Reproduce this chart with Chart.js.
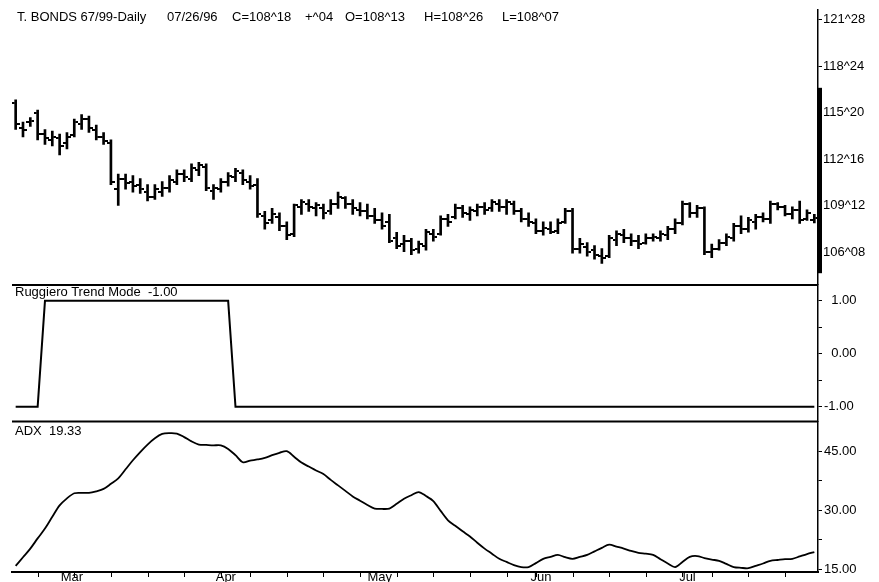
<!DOCTYPE html>
<html>
<head>
<meta charset="utf-8">
<script src="https://cdn.jsdelivr.net/npm/chart.js@4.4.1/dist/chart.umd.min.js"></script>
<style>
  html, body { margin: 0; padding: 0; background: #fff; overflow: hidden; }
  #wrap { position: relative; width: 879px; height: 582px; }
  .lbl { position: absolute; font: 13px "Liberation Sans", Arial, sans-serif; color: #000; white-space: pre; line-height: 15px; }
</style>
</head>
<body>
<div id="wrap">
  <canvas id="chart" width="879" height="582"></canvas>
  <div class="lbl" style="left:17px;top:9px">T. BONDS 67/99-Daily</div>
  <div class="lbl" style="left:167px;top:9px">07/26/96</div>
  <div class="lbl" style="left:232px;top:9px">C=108^18</div>
  <div class="lbl" style="left:305px;top:9px">+^04</div>
  <div class="lbl" style="left:345px;top:9px">O=108^13</div>
  <div class="lbl" style="left:424px;top:9px">H=108^26</div>
  <div class="lbl" style="left:502px;top:9px">L=108^07</div>
  <div class="lbl" style="left:15px;top:284px">Ruggiero Trend Mode  -1.00</div>
  <div class="lbl" style="left:15px;top:423px">ADX  19.33</div>
</div>
<script>
// ---- trading days, 21 Feb - 26 Jul 1996 ----
const days = [
  'Feb 21','Feb 22','Feb 23','Feb 26','Feb 27','Feb 28','Feb 29',
  'Mar 1','Mar 4','Mar 5','Mar 6','Mar 7','Mar 8','Mar 11','Mar 12','Mar 13','Mar 14','Mar 15',
  'Mar 18','Mar 19','Mar 20','Mar 21','Mar 22','Mar 25','Mar 26','Mar 27','Mar 28','Mar 29',
  'Apr 1','Apr 2','Apr 3','Apr 4','Apr 8','Apr 9','Apr 10','Apr 11','Apr 12','Apr 15','Apr 16',
  'Apr 17','Apr 18','Apr 19','Apr 22','Apr 23','Apr 24','Apr 25','Apr 26','Apr 29','Apr 30',
  'May 1','May 2','May 3','May 6','May 7','May 8','May 9','May 10','May 13','May 14','May 15',
  'May 16','May 17','May 20','May 21','May 22','May 23','May 24','May 28','May 29','May 30','May 31',
  'Jun 3','Jun 4','Jun 5','Jun 6','Jun 7','Jun 10','Jun 11','Jun 12','Jun 13','Jun 14',
  'Jun 17','Jun 18','Jun 19','Jun 20','Jun 21','Jun 24','Jun 25','Jun 26','Jun 27','Jun 28',
  'Jul 1','Jul 2','Jul 3','Jul 5','Jul 8','Jul 9','Jul 10','Jul 11','Jul 12',
  'Jul 15','Jul 16','Jul 17','Jul 18','Jul 19','Jul 22','Jul 23','Jul 24','Jul 25','Jul 26'
];
const monthIdx = [7, 28, 49, 71, 91];
const monthNames = ['Mar', 'Apr', 'May', 'Jun', 'Jul'];
const weekIdx = [3, 8, 13, 18, 23, 28, 32, 37, 42, 47, 52, 57, 62, 67, 71, 76, 81, 86, 91, 95, 100, 105];

// ---- T-Bond OHLC (points, decimal) ----
const opens = [
  116.3, 114.6, 115.0, 115.6, 114.2, 113.8, 113.9, 113.6, 114.1, 114.9,
  115.2, 114.5, 114.0, 113.6, 110.5, 111.2, 111.0, 110.8, 110.3, 110.0,
  110.3, 110.6, 111.0, 111.5, 111.2, 111.8, 112.0, 110.4, 110.5, 111.0,
  111.3, 111.6, 111.0, 110.8, 108.7, 108.4, 108.6, 108.0, 107.5, 109.3,
  109.5, 109.2, 109.2, 109.0, 109.5, 109.9, 109.5, 109.1, 109.0, 108.7,
  108.4, 108.3, 107.2, 106.8, 107.0, 106.5, 106.7, 107.5, 107.5, 108.5,
  108.6, 109.2, 108.8, 109.0, 109.3, 109.2, 109.5, 109.3, 109.5, 109.0,
  108.5, 108.2, 107.7, 107.8, 107.7, 108.3, 109.0, 106.5, 106.6, 106.4,
  106.0, 106.0, 107.1, 107.4, 107.2, 107.0, 106.9, 107.2, 107.2, 107.4,
  107.8, 108.2, 109.5, 108.9, 109.2, 106.3, 106.5, 106.9, 107.2, 108.0,
  107.8, 108.3, 108.6, 108.5, 109.5, 109.3, 108.8, 109.1, 108.5, 108.41
];
const highs = [
  116.5, 115.0, 115.3, 115.8, 114.5, 114.4, 114.2, 114.3, 115.2, 115.5,
  115.4, 114.8, 114.3, 113.8, 111.5, 111.5, 111.4, 111.2, 110.8, 110.8,
  111.0, 111.4, 111.8, 111.8, 112.2, 112.3, 112.2, 110.8, 111.2, 111.6,
  111.9, 111.8, 111.4, 111.2, 109.0, 109.2, 108.9, 108.3, 109.5, 109.8,
  109.8, 109.6, 109.5, 109.8, 110.3, 110.0, 109.8, 109.6, 109.5, 109.2,
  108.9, 108.8, 107.6, 107.4, 107.2, 107.0, 107.8, 107.8, 108.7, 108.8,
  109.5, 109.4, 109.3, 109.5, 109.6, 109.8, 109.8, 109.8, 109.7, 109.2,
  108.9, 108.5, 108.3, 108.3, 108.5, 109.2, 109.2, 107.2, 106.9, 106.7,
  106.5, 107.4, 107.7, 107.8, 107.5, 107.4, 107.5, 107.5, 107.7, 108.0,
  108.5, 109.7, 109.6, 109.4, 109.3, 106.8, 107.1, 107.5, 108.2, 108.7,
  108.6, 108.8, 108.9, 109.7, 109.6, 109.4, 109.3, 109.7, 109.1, 108.81
];
const lows = [
  114.5, 114.0, 114.7, 113.8, 113.5, 113.4, 112.8, 113.2, 114.0, 114.5,
  114.3, 113.8, 113.5, 110.8, 109.4, 110.5, 110.3, 110.2, 109.7, 109.8,
  110.0, 110.3, 110.8, 111.0, 111.0, 111.4, 110.4, 109.8, 110.3, 110.7,
  111.0, 110.8, 110.5, 108.6, 107.8, 108.2, 107.7, 107.1, 107.3, 108.8,
  109.0, 108.7, 108.5, 108.8, 109.2, 109.2, 108.8, 108.7, 108.5, 108.2,
  107.8, 106.9, 106.5, 106.3, 106.1, 106.2, 106.4, 107.0, 107.4, 108.0,
  108.5, 108.6, 108.4, 108.7, 108.8, 109.0, 109.0, 108.8, 108.8, 108.3,
  108.0, 107.5, 107.4, 107.5, 107.5, 108.2, 106.2, 106.2, 106.0, 105.8,
  105.5, 105.9, 106.7, 106.9, 106.7, 106.5, 106.8, 107.0, 107.0, 107.1,
  107.5, 108.1, 108.6, 108.6, 106.1, 105.9, 106.4, 106.7, 107.0, 107.5,
  107.6, 107.8, 108.3, 108.2, 109.1, 108.7, 108.5, 108.2, 108.4, 108.22
];
const closes = [
  114.9, 114.5, 115.1, 114.2, 113.9, 114.0, 113.4, 114.0, 115.0, 115.2,
  114.6, 114.0, 113.7, 111.0, 111.2, 110.9, 110.7, 110.5, 110.0, 110.5,
  110.6, 111.1, 111.5, 111.3, 111.9, 112.1, 110.6, 110.6, 111.0, 111.4,
  111.7, 111.1, 110.7, 108.8, 108.2, 108.8, 108.0, 107.4, 109.4, 109.6,
  109.3, 109.4, 108.9, 109.5, 110.0, 109.5, 109.2, 109.0, 108.7, 108.4,
  108.0, 107.0, 106.7, 107.0, 106.4, 106.8, 107.6, 107.3, 108.5, 108.3,
  109.2, 108.9, 109.1, 109.3, 109.1, 109.6, 109.3, 109.6, 109.0, 108.5,
  108.3, 107.7, 107.9, 107.6, 108.2, 109.0, 106.5, 106.8, 106.3, 106.1,
  105.9, 107.2, 107.5, 107.2, 107.0, 106.8, 107.2, 107.3, 107.5, 107.8,
  108.2, 109.5, 108.9, 109.2, 106.3, 106.5, 106.9, 107.3, 108.0, 107.8,
  108.4, 108.6, 108.5, 109.5, 109.3, 108.8, 109.1, 108.4, 108.9, 108.56
];

// ---- Ruggiero trend mode (+1 / -1) ----
const trendMode = [
  -1, -1, -1, -1, 1, 1, 1, 1, 1, 1,
  1, 1, 1, 1, 1, 1, 1, 1, 1, 1,
  1, 1, 1, 1, 1, 1, 1, 1, 1, 1,
  -1, -1, -1, -1, -1, -1, -1, -1, -1, -1,
  -1, -1, -1, -1, -1, -1, -1, -1, -1, -1,
  -1, -1, -1, -1, -1, -1, -1, -1, -1, -1,
  -1, -1, -1, -1, -1, -1, -1, -1, -1, -1,
  -1, -1, -1, -1, -1, -1, -1, -1, -1, -1,
  -1, -1, -1, -1, -1, -1, -1, -1, -1, -1,
  -1, -1, -1, -1, -1, -1, -1, -1, -1, -1,
  -1, -1, -1, -1, -1, -1, -1, -1, -1, -1
];

// ---- ADX ----
const adx = [
  15.8, 18.0, 20.2, 22.8, 25.3, 28.3, 31.2, 33.0, 34.3, 34.4,
  34.4, 34.8, 35.4, 36.7, 38.1, 40.4, 42.7, 44.8, 46.7, 48.3,
  49.4, 49.6, 49.5, 48.6, 47.5, 46.7, 46.6, 46.5, 46.5, 45.6,
  44.0, 42.2, 42.6, 42.9, 43.3, 44.0, 44.6, 45.0, 43.6, 42.1,
  41.1, 40.1, 39.2, 37.7, 36.3, 34.9, 33.5, 32.4, 31.3, 30.4,
  30.3, 30.4, 31.6, 32.9, 33.8, 34.6, 33.6, 32.3, 29.8, 27.4,
  26.0, 24.6, 23.3, 21.7, 20.2, 18.9, 17.6, 16.8, 16.0, 15.5,
  15.5, 16.5, 17.6, 18.1, 18.6, 18.0, 17.6, 18.1, 18.6, 19.5,
  20.4, 21.2, 20.7, 20.2, 19.6, 19.1, 18.9, 18.6, 17.5, 16.4,
  15.5, 16.8, 18.1, 18.3, 17.8, 17.4, 17.1, 16.3, 15.5, 15.3,
  15.2, 15.8, 16.4, 17.1, 17.3, 17.5, 17.6, 18.2, 18.8, 19.33
];

// ---- axis ticks ----
const priceTicks = [106.25, 109.375, 112.5, 115.625, 118.75, 121.875];
const priceTickLabels = ['106^08', '109^12', '112^16', '115^20', '118^24', '121^28'];
const trendTicks = [-1, -0.5, 0, 0.5, 1];
const trendTickLabels = ['-1.00', '', '  0.00', '', '  1.00'];
const adxTicks = [15, 22.5, 30, 37.5, 45];
const adxTickLabels = ['15.00', '', '30.00', '', '45.00'];
const axisMarker = [104.85, 117.3];

Chart.defaults.font.family = '"Liberation Sans", Arial, sans-serif';
Chart.defaults.font.size = 13;
Chart.defaults.color = '#000';

// open / close ticks as small point images
function tickImage(left) {
  const c = document.createElement('canvas');
  c.width = 8;
  c.height = 2;
  const g = c.getContext('2d');
  g.fillStyle = '#000';
  g.fillRect(left ? 0 : 5, 0, 3, 2);
  return c;
}
const openTick = tickImage(true);
const closeTick = tickImage(false);

// panel separators, weekly ticks under the date axis, range marker on price axis
const panelLines = {
  id: 'panelLines',
  afterDatasetsDraw(chart) {
    const { ctx, chartArea, scales } = chart;
    ctx.save();
    ctx.strokeStyle = '#000';
    ctx.lineWidth = 2;
    [scales.trend.top, scales.adx.top].forEach((y) => {
      ctx.beginPath();
      ctx.moveTo(chartArea.left, y);
      ctx.lineTo(chartArea.right, y);
      ctx.stroke();
    });
    ctx.lineWidth = 1;
    weekIdx.forEach((i) => {
      const x = Math.round(scales.x.getPixelForValue(i)) + 0.5;
      ctx.beginPath();
      ctx.moveTo(x, chartArea.bottom);
      ctx.lineTo(x, chartArea.bottom + 5);
      ctx.stroke();
    });
    const p = scales.price;
    const yTop = p.getPixelForValue(axisMarker[1]);
    const yBot = p.getPixelForValue(axisMarker[0]);
    ctx.fillStyle = '#000';
    ctx.fillRect(p.left, yTop, 4, yBot - yTop);
    ctx.restore();
  }
};

function rightAxis(extra) {
  return Object.assign({
    type: 'linear',
    position: 'right',
    stack: 'panels',
    grid: { drawOnChartArea: false, drawTicks: true, tickLength: 4, color: '#000', lineWidth: 1 },
    border: { display: true, color: '#000', width: 1.5 },
    afterFit: (s) => { s.width = 61; }
  }, extra);
}

new Chart(document.getElementById('chart'), {
  type: 'bar',
  data: {
    labels: days,
    datasets: [
      {
        type: 'bar',
        yAxisID: 'price',
        data: lows.map((l, i) => [l, highs[i]]),
        backgroundColor: '#000',
        borderWidth: 0,
        barThickness: 2,
        order: 3
      },
      {
        type: 'line',
        yAxisID: 'price',
        data: opens,
        showLine: false,
        pointStyle: openTick,
        pointRadius: 3,
        order: 2
      },
      {
        type: 'line',
        yAxisID: 'price',
        data: closes,
        showLine: false,
        pointStyle: closeTick,
        pointRadius: 3,
        order: 2
      },
      {
        type: 'line',
        yAxisID: 'trend',
        data: trendMode,
        borderColor: '#000',
        borderWidth: 2,
        pointRadius: 0,
        tension: 0,
        order: 1
      },
      {
        type: 'line',
        yAxisID: 'adx',
        data: adx,
        borderColor: '#000',
        borderWidth: 1.8,
        pointRadius: 0,
        tension: 0.3,
        order: 1
      }
    ]
  },
  options: {
    responsive: false,
    animation: false,
    layout: { padding: { left: 12, top: 4, right: 0, bottom: 0 } },
    plugins: { legend: { display: false }, tooltip: { enabled: false } },
    scales: {
      price: rightAxis({
        stackWeight: 278,
        min: 104.06,
        max: 122.54,
        afterBuildTicks: (s) => { s.ticks = priceTicks.map((v) => ({ value: v })); },
        ticks: { color: '#000', padding: 1, autoSkip: false, font: { size: 13 },
          callback: (v, i) => priceTickLabels[i] }
      }),
      trend: rightAxis({
        stackWeight: 138,
        min: -1.28,
        max: 1.30,
        afterBuildTicks: (s) => { s.ticks = trendTicks.map((v) => ({ value: v })); },
        ticks: { color: '#000', padding: 2, autoSkip: false, font: { size: 13 },
          callback: (v, i) => trendTickLabels[i] }
      }),
      adx: rightAxis({
        stackWeight: 152,
        min: 14.24,
        max: 52.56,
        afterBuildTicks: (s) => { s.ticks = adxTicks.map((v) => ({ value: v })); },
        ticks: { color: '#000', padding: 2, autoSkip: false, font: { size: 13 },
          callback: (v, i) => adxTickLabels[i] }
      }),
      x: {
        type: 'category',
        offset: true,
        grid: { display: false, drawTicks: false },
        border: { display: true, color: '#000', width: 2 },
        ticks: {
          autoSkip: false,
          maxRotation: 0,
          minRotation: 0,
          padding: -1.5,
          labelOffset: 5,
          color: '#000',
          font: { size: 13, lineHeight: 1 },
          callback: (v, i) => {
            const k = monthIdx.indexOf(i);
            return k >= 0 ? monthNames[k] : '';
          }
        }
      }
    }
  },
  plugins: [panelLines]
});
</script>
</body>
</html>
